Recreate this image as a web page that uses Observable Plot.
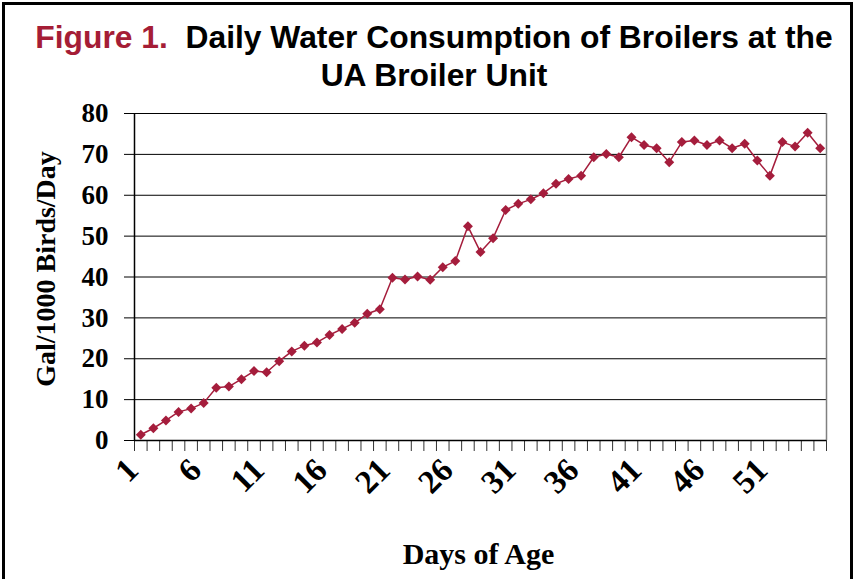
<!DOCTYPE html>
<html>
<head>
<meta charset="utf-8">
<script src="https://cdn.jsdelivr.net/npm/d3@7"></script>
<script src="https://cdn.jsdelivr.net/npm/@observablehq/plot@0.6"></script>
<style>
  html, body { margin: 0; padding: 0; background: #fff; }
  #wrap { position: relative; width: 854px; height: 579px; overflow: hidden; background: #fff; }
  #frame { position: absolute; left: 2px; top: 2px; width: 845px; height: 640px; border: 3px solid #000; box-sizing: content-box; pointer-events: none; }
  #title { position: absolute; left: 0; top: 18px; width: 868px; text-align: center;
           font-family: "Liberation Sans", Arial, sans-serif; font-weight: bold; font-size: 31.8px; line-height: 38px; color: #000; }
  #title .fig { color: #a51d36; }
  #chart { position: absolute; left: 0; top: 100px; }
</style>
</head>
<body>
<div id="wrap">
  <div id="title"><span class="fig">Figure 1.</span>&nbsp; Daily Water Consumption of Broilers at the<br>UA Broiler Unit</div>
  <div id="chart"></div>
  <div id="frame"></div>
</div>
<script>
// Days of age (categories)
const days = [1,2,3,4,5,6,7,8,9,10,11,12,13,14,15,16,17,18,19,20,21,22,23,24,25,26,27,28,29,30,
              31,32,33,34,35,36,37,38,39,40,41,42,43,44,45,46,47,48,49,50,51,52,53,54,55];
// Gallons per 1000 birds per day
const gallons = [1.4,3.0,4.9,7.0,7.8,9.2,12.9,13.2,15.0,17.0,
                 16.7,19.4,21.8,23.2,24.0,25.8,27.3,28.8,31.0,32.1,
                 39.8,39.4,40.1,39.3,42.4,43.9,52.4,46.1,49.5,56.4,
                 57.9,59.0,60.5,62.8,64.0,64.8,69.3,70.1,69.3,74.2,
                 72.3,71.5,68.1,73.0,73.4,72.3,73.4,71.5,72.6,68.5,
                 64.8,73.0,71.9,75.3,71.5];
// Tick labels
const xTickLabels = [1,6,11,16,21,26,31,36,41,46,51];
const yTicks = [0,10,20,30,40,50,60,70,80];
const yLabel = "Gal/1000 Birds/Day";
const xLabel = "Days of Age";

const data = days.map((d, i) => ({day: d, value: gallons[i]}));
const first = days[0] - 0.5, last = days[days.length - 1] + 0.5;
const boundaries = [first, ...days.map(d => d + 0.5)];

const serif = "'Liberation Serif', 'Times New Roman', serif";
const red = "#a51d3c";

const chart = Plot.plot({
  width: 854,
  height: 479,
  marginTop: 13,
  marginBottom: 139,
  marginLeft: 134,
  marginRight: 28,
  style: {fontFamily: serif, background: "#fff", overflow: "visible"},
  x: {domain: [first, last], axis: null, label: null},
  y: {domain: [0, 80], axis: null, label: null},
  marks: [
    Plot.ruleY(yTicks.filter(t => t > 0), {stroke: "#000", strokeWidth: 1}),
    Plot.ruleX([last], {stroke: "#808080", strokeWidth: 1.5}),
    Plot.axisX(boundaries, {tickSize: 11, tickFormat: () => "", stroke: "#333", label: null}),
    Plot.axisX(xTickLabels, {tickSize: 0, tickPadding: 22, dx: -8, dy: 2, tickRotate: -45, fontSize: 33, fontWeight: "bold", fill: "#000", label: null}),
    Plot.axisY(yTicks, {tickSize: 10, tickPadding: 16, fontSize: 27, fontWeight: "bold", fill: "#000", stroke: "#000", label: null}),
    Plot.ruleX([first], {stroke: "#000", strokeWidth: 1.5}),
    Plot.ruleY([0], {stroke: "#000", strokeWidth: 1.5}),
    Plot.line(data, {x: "day", y: "value", stroke: red, strokeWidth: 1.5}),
    Plot.dot(data, {x: "day", y: "value", symbol: "diamond2", r: 4.5, fill: red, stroke: "none"}),
    Plot.text([yLabel], {frameAnchor: "left", textAnchor: "middle", lineAnchor: "middle", dx: -88, dy: -8, rotate: -90, fontSize: 28, fontWeight: "bold", fill: "#000"}),
    Plot.text([xLabel], {frameAnchor: "bottom", textAnchor: "middle", lineAnchor: "bottom", dy: 123, dx: -2, fontSize: 30, fontWeight: "bold", fill: "#000"})
  ]
});
document.getElementById("chart").appendChild(chart);
</script>
</body>
</html>
